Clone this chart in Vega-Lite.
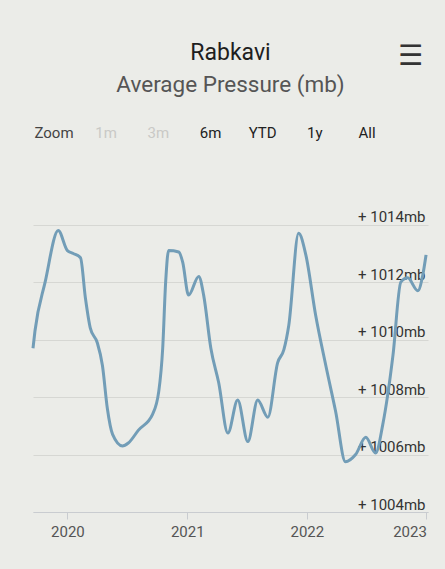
{
  "$schema": "https://vega.github.io/schema/vega-lite/v6.json",
  "width": 395,
  "height": 316,
  "autosize": {"type": "none"},
  "padding": {"left": 33, "top": 196, "right": 17, "bottom": 57},
  "background": "#ebece8",
  "title": {
    "text": "Rabkavi",
    "subtitle": "Average Pressure (mb)",
    "font": "Roboto",
    "fontSize": 23,
    "fontWeight": "normal",
    "color": "#1e1e1e",
    "subtitleFont": "Roboto",
    "subtitleFontSize": 22.5,
    "subtitleColor": "#555555",
    "subtitlePadding": 9,
    "anchor": "middle",
    "frame": "group",
    "offset": -53.5
  },
  "datasets": {
    "pressure": [
      {"date": "2019/09/18", "pressure": 1009.7},
      {"date": "2019/09/24", "pressure": 1010.3},
      {"date": "2019/10/25", "pressure": 1012.0},
      {"date": "2019/12/04", "pressure": 1013.8},
      {"date": "2020/01/01", "pressure": 1013.1},
      {"date": "2020/01/19", "pressure": 1013.0},
      {"date": "2020/02/10", "pressure": 1012.85},
      {"date": "2020/02/25", "pressure": 1011.45},
      {"date": "2020/03/11", "pressure": 1010.4},
      {"date": "2020/04/01", "pressure": 1009.9},
      {"date": "2020/04/17", "pressure": 1009.1},
      {"date": "2020/05/02", "pressure": 1007.6},
      {"date": "2020/05/18", "pressure": 1006.7},
      {"date": "2020/06/17", "pressure": 1006.3},
      {"date": "2020/07/05", "pressure": 1006.4},
      {"date": "2020/08/05", "pressure": 1006.85},
      {"date": "2020/09/17", "pressure": 1007.4},
      {"date": "2020/10/06", "pressure": 1008.2},
      {"date": "2020/10/18", "pressure": 1009.7},
      {"date": "2020/10/27", "pressure": 1012.0},
      {"date": "2020/11/05", "pressure": 1013.1},
      {"date": "2020/12/06", "pressure": 1013.05},
      {"date": "2020/12/18", "pressure": 1012.7},
      {"date": "2021/01/05", "pressure": 1011.55},
      {"date": "2021/02/05", "pressure": 1012.2},
      {"date": "2021/02/20", "pressure": 1011.55},
      {"date": "2021/03/14", "pressure": 1009.7},
      {"date": "2021/04/07", "pressure": 1008.5},
      {"date": "2021/05/05", "pressure": 1006.75},
      {"date": "2021/06/04", "pressure": 1007.9},
      {"date": "2021/07/05", "pressure": 1006.45},
      {"date": "2021/08/04", "pressure": 1007.9},
      {"date": "2021/09/04", "pressure": 1007.3},
      {"date": "2021/10/04", "pressure": 1009.2},
      {"date": "2021/10/23", "pressure": 1009.65},
      {"date": "2021/11/07", "pressure": 1010.5},
      {"date": "2021/12/07", "pressure": 1013.7},
      {"date": "2021/12/29", "pressure": 1012.95},
      {"date": "2022/01/28", "pressure": 1010.85},
      {"date": "2022/02/28", "pressure": 1009.1},
      {"date": "2022/03/30", "pressure": 1007.5},
      {"date": "2022/04/29", "pressure": 1005.75},
      {"date": "2022/05/30", "pressure": 1006.0},
      {"date": "2022/06/30", "pressure": 1006.6},
      {"date": "2022/07/30", "pressure": 1006.05},
      {"date": "2022/08/21", "pressure": 1007.05},
      {"date": "2022/09/21", "pressure": 1009.45},
      {"date": "2022/10/15", "pressure": 1012.0},
      {"date": "2022/11/05", "pressure": 1012.15},
      {"date": "2022/12/06", "pressure": 1011.7},
      {"date": "2022/12/21", "pressure": 1012.25},
      {"date": "2022/12/31", "pressure": 1012.95}
    ],
    "buttons": [
      {"label": "Zoom", "state": "label"},
      {"label": "1m", "state": "disabled"},
      {"label": "3m", "state": "disabled"},
      {"label": "6m", "state": "enabled"},
      {"label": "YTD", "state": "enabled"},
      {"label": "1y", "state": "enabled"},
      {"label": "All", "state": "enabled"}
    ],
    "menu": [
      {"icon": "☰"}
    ]
  },
  "layer": [
    {
      "layer": [
        {
          "data": {"name": "pressure"},
          "mark": {"type": "line", "interpolate": "monotone", "strokeWidth": 3, "color": "#729db7"},
          "encoding": {
            "x": {
              "field": "date",
              "type": "temporal",
              "scale": {"domain": [{"year": 2019, "month": 9, "date": 18}, {"year": 2023, "month": 1, "date": 6}]},
              "axis": {
                "title": null,
                "format": "%Y",
                "tickCount": {"interval": "year", "step": 1},
                "grid": false,
                "domainColor": "#c9ccd0",
                "tickColor": "#c9ccd0",
                "tickSize": 7,
                "labelFont": "Roboto",
                "labelFontSize": 15,
                "labelColor": "#555555",
                "labelPadding": 5,
                "labelFlush": 5,
                "labelOverlap": false
              }
            },
            "y": {
              "field": "pressure",
              "type": "quantitative",
              "scale": {"domain": [1004, 1015], "nice": false, "zero": false},
              "axis": {
                "title": null,
                "orient": "right",
                "values": [1004, 1006, 1008, 1010, 1012, 1014],
                "labelExpr": "'+ ' + datum.value + 'mb'",
                "labelAlign": "right",
                "labelBaseline": "bottom",
                "labelPadding": -3,
                "ticks": false,
                "domain": false,
                "grid": true,
                "gridColor": "#d6d7d3",
                "labelFont": "Roboto",
                "labelFontSize": 15,
                "labelColor": "#333333",
                "labelOverlap": false,
                "labelBound": false
              }
            }
          }
        },
        {
          "data": {"name": "menu"},
          "mark": {"type": "text", "font": "DejaVu Sans", "fontSize": 28, "fontWeight": "bold", "baseline": "middle", "align": "center", "color": "#333333"},
          "encoding": {
            "x": {"datum": {"year": 2022, "month": 11, "date": 14}, "type": "temporal"},
            "y": {"datum": 1019.84},
            "text": {"field": "icon"}
          }
        }
      ]
    },
    {
      "data": {"name": "buttons"},
      "mark": {"type": "text", "font": "Roboto", "fontSize": 15, "baseline": "middle", "align": "center"},
      "encoding": {
        "x": {
          "field": "label",
          "type": "nominal",
          "sort": null,
          "scale": {"type": "point", "padding": 0, "domain": ["Zoom", "1m", "3m", "6m", "YTD", "1y", "All"], "range": [21, 334]},
          "axis": null
        },
        "y": {"datum": 1017.19},
        "text": {"field": "label"},
        "color": {
          "field": "state",
          "type": "nominal",
          "scale": {"domain": ["label", "enabled", "disabled"], "range": ["#444444", "#222222", "#c9c9c6"]},
          "legend": null
        }
      }
    }
  ],
  "resolve": {"scale": {"x": "independent", "color": "independent"}},
  "config": {
    "font": "Roboto",
    "view": {"stroke": null}
  }
}
